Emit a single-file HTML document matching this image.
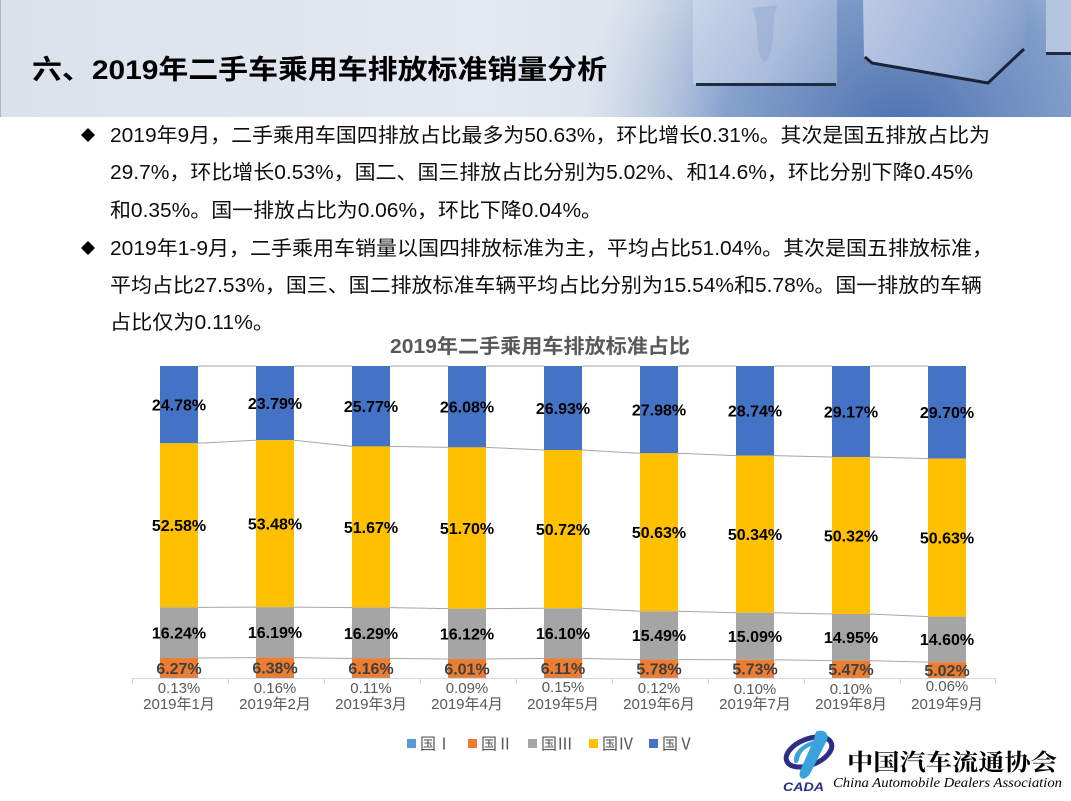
<!DOCTYPE html>
<html>
<head>
<meta charset="utf-8">
<style>
html,body{margin:0;padding:0;background:#fff;}
body{width:1071px;height:801px;overflow:hidden;}
svg{display:block;}
</style>
</head>
<body>
<svg width="1071" height="801" viewBox="0 0 1071 801" xmlns="http://www.w3.org/2000/svg">
<defs>
<linearGradient id="hg" x1="0" y1="0" x2="1" y2="0">
<stop offset="0" stop-color="#dbe2ec"/>
<stop offset="0.45" stop-color="#e4e9f0"/>
<stop offset="0.62" stop-color="#dce3ed"/>
<stop offset="1" stop-color="#b5c6de"/>
</linearGradient>
<radialGradient id="shade" cx="900" cy="140" r="320" gradientUnits="userSpaceOnUse">
<stop offset="0" stop-color="#4a6fac" stop-opacity="1"/>
<stop offset="0.55" stop-color="#7392c6" stop-opacity="0.8"/>
<stop offset="1" stop-color="#a7bbd9" stop-opacity="0"/>
</radialGradient>
<linearGradient id="c1" x1="693" y1="0" x2="837" y2="86" gradientUnits="userSpaceOnUse">
<stop offset="0" stop-color="#c9d6ea"/>
<stop offset="0.6" stop-color="#a9bddc"/>
<stop offset="1" stop-color="#8ba4cc"/>
</linearGradient>
<linearGradient id="c2" x1="863" y1="0" x2="1027" y2="83" gradientUnits="userSpaceOnUse">
<stop offset="0" stop-color="#bccbe4"/>
<stop offset="0.6" stop-color="#9cb2d7"/>
<stop offset="1" stop-color="#7892c2"/>
</linearGradient>
</defs>

<!-- header -->
<rect x="0" y="0" width="1071" height="117" fill="url(#hg)"/>
<rect x="560" y="0" width="511" height="117" fill="url(#shade)"/>
<rect x="693" y="-2" width="144" height="86" fill="url(#c1)"/>
<path d="M752,8 C760,25 755,40 760,55 C764,68 770,60 772,45 C775,30 772,15 778,5 Z" fill="#8fa7cf" opacity="0.45"/>
<rect x="696" y="83" width="140" height="3" fill="#1e2c44"/>
<polygon points="863,-2 1027,-2 1025,48 988,83 870,62 864,56" fill="url(#c2)"/>
<polyline points="865,57 872,63 988,83 1024,49" fill="none" stroke="#1a2438" stroke-width="3"/>
<rect x="1046" y="-2" width="30" height="55" fill="#b4c5e0"/>
<rect x="1046" y="52" width="30" height="3" fill="#1e2c44"/>
<line x1="0.5" y1="0" x2="0.5" y2="117" stroke="#b0b6be" stroke-width="1"/>

<text x="32" y="79" font-family="Liberation Sans, Noto Sans CJK SC, sans-serif" font-weight="bold" font-size="27" fill="#000" textLength="575" lengthAdjust="spacingAndGlyphs">六、2019年二手车乘用车排放标准销量分析</text>

<!-- body text -->
<polygon points="88,128 95,135 88,142 81,135" fill="#000"/>
<polygon points="88,241 95,248 88,255 81,248" fill="#000"/>
<g font-family="Liberation Sans, Noto Sans CJK SC, sans-serif" font-size="20" fill="#0d0d0d">
<text x="110" y="142" textLength="880" lengthAdjust="spacingAndGlyphs">2019年9月，二手乘用车国四排放占比最多为50.63%，环比增长0.31%。其次是国五排放占比为</text>
<text x="110" y="179" textLength="863" lengthAdjust="spacingAndGlyphs">29.7%，环比增长0.53%，国二、国三排放占比分别为5.02%、和14.6%，环比分别下降0.45%</text>
<text x="110" y="217" textLength="492" lengthAdjust="spacingAndGlyphs">和0.35%。国一排放占比为0.06%，环比下降0.04%。</text>
<text x="110" y="255" textLength="883" lengthAdjust="spacingAndGlyphs">2019年1-9月，二手乘用车销量以国四排放标准为主，平均占比51.04%。其次是国五排放标准，</text>
<text x="110" y="292" textLength="872" lengthAdjust="spacingAndGlyphs">平均占比27.53%，国三、国二排放标准车辆平均占比分别为15.54%和5.78%。国一排放的车辆</text>
<text x="110" y="329" textLength="164" lengthAdjust="spacingAndGlyphs">占比仅为0.11%。</text>
</g>

<!-- chart title -->
<text x="390" y="353" font-family="Liberation Sans, Noto Sans CJK SC, sans-serif" font-weight="bold" font-size="20" fill="#595959" textLength="300" lengthAdjust="spacingAndGlyphs">2019年二手乘用车排放标准占比</text>

<!-- series lines -->
<g stroke="#a6a6a6" stroke-width="1" fill="none">
<line x1="198" y1="366" x2="256" y2="366"/><line x1="294" y1="366" x2="352" y2="366"/><line x1="390" y1="366" x2="448" y2="366"/><line x1="486" y1="366" x2="544" y2="366"/><line x1="582" y1="366" x2="640" y2="366"/><line x1="678" y1="366" x2="736" y2="366"/><line x1="774" y1="366" x2="832" y2="366"/><line x1="870" y1="366" x2="928" y2="366"/>
<polyline points="198,443.31 256,440.22"/><polyline points="294,440.22 352,446.40"/><polyline points="390,446.40 448,447.37"/><polyline points="486,447.37 544,449.99"/><polyline points="582,449.99 640,453.30"/><polyline points="678,453.30 736,455.67"/><polyline points="774,455.67 832,456.98"/><polyline points="870,456.98 928,458.63"/>
<polyline points="198,607.36 256,607.08"/><polyline points="294,607.08 352,607.61"/><polyline points="390,607.61 448,608.67"/><polyline points="486,608.67 544,608.24"/><polyline points="582,608.24 640,611.26"/><polyline points="678,611.26 736,612.73"/><polyline points="774,612.73 832,613.98"/><polyline points="870,613.98 928,616.60"/>
<polyline points="198,658.03 256,657.60"/><polyline points="294,657.60 352,658.44"/><polyline points="390,658.44 448,658.97"/><polyline points="486,658.97 544,658.47"/><polyline points="582,658.47 640,659.59"/><polyline points="678,659.59 736,659.81"/><polyline points="774,659.81 832,660.62"/><polyline points="870,660.62 928,662.15"/>
</g>

<!-- bars -->
<g>
<rect x="160" y="366" width="38" height="77.31" fill="#4472c4"/>
<rect x="160" y="443.31" width="38" height="164.05" fill="#ffc000"/>
<rect x="160" y="607.36" width="38" height="50.67" fill="#a5a5a5"/>
<rect x="160" y="658.03" width="38" height="19.56" fill="#ed7d31"/>
<rect x="160" y="677.59" width="38" height="0.41" fill="#5b9bd5"/>
<rect x="256" y="366" width="38" height="74.22" fill="#4472c4"/>
<rect x="256" y="440.22" width="38" height="166.86" fill="#ffc000"/>
<rect x="256" y="607.08" width="38" height="50.52" fill="#a5a5a5"/>
<rect x="256" y="657.60" width="38" height="19.90" fill="#ed7d31"/>
<rect x="256" y="677.50" width="38" height="0.50" fill="#5b9bd5"/>
<rect x="352" y="366" width="38" height="80.40" fill="#4472c4"/>
<rect x="352" y="446.40" width="38" height="161.21" fill="#ffc000"/>
<rect x="352" y="607.61" width="38" height="50.83" fill="#a5a5a5"/>
<rect x="352" y="658.44" width="38" height="19.22" fill="#ed7d31"/>
<rect x="352" y="677.66" width="38" height="0.34" fill="#5b9bd5"/>
<rect x="448" y="366" width="38" height="81.37" fill="#4472c4"/>
<rect x="448" y="447.37" width="38" height="161.30" fill="#ffc000"/>
<rect x="448" y="608.67" width="38" height="50.30" fill="#a5a5a5"/>
<rect x="448" y="658.97" width="38" height="18.75" fill="#ed7d31"/>
<rect x="448" y="677.72" width="38" height="0.28" fill="#5b9bd5"/>
<rect x="544" y="366" width="38" height="83.99" fill="#4472c4"/>
<rect x="544" y="449.99" width="38" height="158.25" fill="#ffc000"/>
<rect x="544" y="608.24" width="38" height="50.23" fill="#a5a5a5"/>
<rect x="544" y="658.47" width="38" height="19.06" fill="#ed7d31"/>
<rect x="544" y="677.53" width="38" height="0.47" fill="#5b9bd5"/>
<rect x="640" y="366" width="38" height="87.30" fill="#4472c4"/>
<rect x="640" y="453.30" width="38" height="157.96" fill="#ffc000"/>
<rect x="640" y="611.26" width="38" height="48.33" fill="#a5a5a5"/>
<rect x="640" y="659.59" width="38" height="18.04" fill="#ed7d31"/>
<rect x="640" y="677.63" width="38" height="0.37" fill="#5b9bd5"/>
<rect x="736" y="366" width="38" height="89.67" fill="#4472c4"/>
<rect x="736" y="455.67" width="38" height="157.06" fill="#ffc000"/>
<rect x="736" y="612.73" width="38" height="47.08" fill="#a5a5a5"/>
<rect x="736" y="659.81" width="38" height="17.88" fill="#ed7d31"/>
<rect x="736" y="677.69" width="38" height="0.31" fill="#5b9bd5"/>
<rect x="832" y="366" width="38" height="90.98" fill="#4472c4"/>
<rect x="832" y="456.98" width="38" height="157.00" fill="#ffc000"/>
<rect x="832" y="613.98" width="38" height="46.64" fill="#a5a5a5"/>
<rect x="832" y="660.62" width="38" height="17.07" fill="#ed7d31"/>
<rect x="832" y="677.69" width="38" height="0.31" fill="#5b9bd5"/>
<rect x="928" y="366" width="38" height="92.63" fill="#4472c4"/>
<rect x="928" y="458.63" width="38" height="157.97" fill="#ffc000"/>
<rect x="928" y="616.60" width="38" height="45.55" fill="#a5a5a5"/>
<rect x="928" y="662.15" width="38" height="15.66" fill="#ed7d31"/>
<rect x="928" y="677.81" width="38" height="0.19" fill="#5b9bd5"/>
</g>

<!-- axis -->
<g stroke="#d9d9d9" stroke-width="1">
<line x1="132" y1="678.5" x2="996" y2="678.5"/>
<line x1="132.5" y1="678" x2="132.5" y2="684"/><line x1="228.5" y1="678" x2="228.5" y2="684"/><line x1="324.5" y1="678" x2="324.5" y2="684"/><line x1="420.5" y1="678" x2="420.5" y2="684"/><line x1="516.5" y1="678" x2="516.5" y2="684"/><line x1="612.5" y1="678" x2="612.5" y2="684"/><line x1="708.5" y1="678" x2="708.5" y2="684"/><line x1="804.5" y1="678" x2="804.5" y2="684"/><line x1="900.5" y1="678" x2="900.5" y2="684"/><line x1="995.5" y1="678" x2="995.5" y2="684"/>
</g>

<!-- data labels -->
<g font-family="Liberation Sans, sans-serif" font-weight="bold" font-size="16" fill="#000" text-anchor="middle">
<text x="179" y="410.5">24.78%</text><text x="275" y="409">23.79%</text><text x="371" y="412">25.77%</text><text x="467" y="412.5">26.08%</text><text x="563" y="414">26.93%</text><text x="659" y="415.5">27.98%</text><text x="755" y="416.5">28.74%</text><text x="851" y="417.5">29.17%</text><text x="947" y="418">29.70%</text>
<text x="179" y="531">52.58%</text><text x="275" y="529.5">53.48%</text><text x="371" y="533">51.67%</text><text x="467" y="534">51.70%</text><text x="563" y="535">50.72%</text><text x="659" y="538">50.63%</text><text x="755" y="540">50.34%</text><text x="851" y="541.5">50.32%</text><text x="947" y="543.5">50.63%</text>
<text x="179" y="638.5">16.24%</text><text x="275" y="638">16.19%</text><text x="371" y="639">16.29%</text><text x="467" y="639.5">16.12%</text><text x="563" y="639">16.10%</text><text x="659" y="641">15.49%</text><text x="755" y="642">15.09%</text><text x="851" y="643">14.95%</text><text x="947" y="645">14.60%</text>
</g>
<g font-family="Liberation Sans, sans-serif" font-weight="bold" font-size="16" fill="#404040" text-anchor="middle">
<text x="179" y="674">6.27%</text><text x="275" y="673.5">6.38%</text><text x="371" y="674">6.16%</text><text x="467" y="674.5">6.01%</text><text x="563" y="674">6.11%</text><text x="659" y="674.5">5.78%</text><text x="755" y="674.5">5.73%</text><text x="851" y="675">5.47%</text><text x="947" y="676">5.02%</text>
</g>
<g font-family="Liberation Sans, sans-serif" font-size="15" fill="#595959" text-anchor="middle">
<text x="179" y="693">0.13%</text><text x="275" y="693">0.16%</text><text x="371" y="693">0.11%</text><text x="467" y="693">0.09%</text><text x="563" y="692">0.15%</text><text x="659" y="693">0.12%</text><text x="755" y="694">0.10%</text><text x="851" y="694">0.10%</text><text x="947" y="691">0.06%</text>
</g>
<g font-family="Liberation Sans, Noto Sans CJK SC, sans-serif" font-size="15" fill="#595959" text-anchor="middle">
<text x="179" y="709">2019年1月</text><text x="275" y="709">2019年2月</text><text x="371" y="709">2019年3月</text><text x="467" y="709">2019年4月</text><text x="563" y="709">2019年5月</text><text x="659" y="709">2019年6月</text><text x="755" y="709">2019年7月</text><text x="851" y="709">2019年8月</text><text x="947" y="709">2019年9月</text>
</g>

<!-- legend -->
<rect x="407" y="739" width="9" height="9" fill="#5b9bd5"/>
<rect x="468" y="739" width="9" height="9" fill="#ed7d31"/>
<rect x="528" y="739" width="9" height="9" fill="#a5a5a5"/>
<rect x="589" y="739" width="9" height="9" fill="#ffc000"/>
<rect x="649" y="739" width="9" height="9" fill="#4472c4"/>
<g font-family="Liberation Sans, Noto Sans CJK SC, sans-serif" font-size="16" fill="#595959">
<text x="420" y="749.5">国Ⅰ</text>
<text x="481" y="749.5">国Ⅱ</text>
<text x="541" y="749.5">国Ⅲ</text>
<text x="602" y="749.5">国Ⅳ</text>
<text x="662" y="749.5">国Ⅴ</text>
</g>

<!-- logo -->
<ellipse cx="809" cy="752" rx="24" ry="13" transform="rotate(-22 809 752)" fill="none" stroke="#2d2e83" stroke-width="5"/>
<path d="M818,731 C826,729 830,736 826,742 L812,770 C808,778 804,780 801,778 C798,775 800,770 804,762 L811,746 C806,748 800,752 799,760 C797,765 793,764 794,758 C796,749 805,743 813,741 L815,736 C815,733 816,731 818,731 Z" fill="#3aa2dd"/>
<text x="783" y="791" font-family="Liberation Sans, sans-serif" font-weight="bold" font-style="italic" font-size="12" fill="#2d2e83" textLength="41" lengthAdjust="spacingAndGlyphs">CADA</text>
<text x="847" y="770" font-family="Liberation Serif, Noto Serif CJK SC, serif" font-weight="bold" font-size="23" fill="#000" textLength="210" lengthAdjust="spacingAndGlyphs">中国汽车流通协会</text>
<text x="833" y="787" font-family="Liberation Serif, serif" font-style="italic" font-size="14" fill="#000" textLength="229" lengthAdjust="spacingAndGlyphs">China Automobile Dealers Association</text>
</svg>
</body>
</html>
